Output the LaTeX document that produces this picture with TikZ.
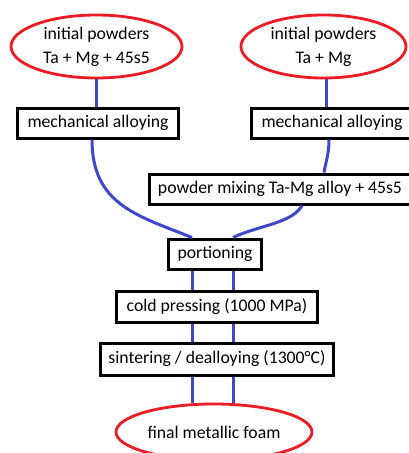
\documentclass[tikz,border=0pt]{standalone}
\usepackage{fontspec}
\setmainfont{Carlito}
\usetikzlibrary{shapes.geometric}

\definecolor{paintred}{RGB}{237,28,36}
\definecolor{paintblue}{RGB}{63,72,204}

\tikzset{
    stepbox/.style={draw=black, line width=3pt, fill=white, inner sep=0pt, minimum height=30pt},
    source/.style={ellipse, draw=paintred, line width=2.8pt, fill=white, inner sep=0pt, align=center},
    link/.style={draw=paintblue, line width=3pt},
}

\begin{document}
\begin{tikzpicture}[x=1pt, y=-1pt, font=\fontsize{17.7}{24}\selectfont]
        \useasboundingbox (0,0) rectangle (408,453);

        % === COLUMNS OF THE DOUBLE LINES ===
        \coordinate (lx) at (192,0);
        \coordinate (rx) at (233,0);

        % === STARTING POWDERS ===
        \node[source, minimum width=171pt, minimum height=63pt] (ip1) at (96.5,46.5) {initial powders\\Ta + Mg + 45s5};
        \node[source, minimum width=165pt, minimum height=63pt] (ip2) at (323.5,46.5) {initial powders\\Ta + Mg};

        % === PROCESS STEPS ===
        \node[stepbox, minimum width=161pt] (ma1) at (98,123) {mechanical alloying};
        \node[stepbox, minimum width=161pt] (ma2) at (332,123) {mechanical alloying};
        \node[stepbox, minimum width=261pt] (mix) at (280,189) {powder mixing Ta-Mg alloy + 45s5};
        \node[stepbox, minimum width=93pt] (port) at (215,254) {portioning};
        \node[stepbox, minimum width=201pt, minimum height=31pt] (cold) at (217,306.5) {cold pressing (1000 MPa)};
        \node[stepbox, minimum width=233pt, minimum height=32pt] (sint) at (217,359) {sintering / dealloying (1300°C)};

        % === PRODUCT ===
        \node[source, minimum width=196pt, minimum height=56pt] (foam) at (214,432) {final metallic foam};

        % === LINKS ===
        \draw[link] (ip1.south) -- (ip1.south |- ma1.north);
        \draw[link] ([xshift=3pt]ip2.south) -- ([xshift=3pt]ip2.south |- ma2.north);
        \draw[link] ([xshift=-6pt]ma1.south) .. controls +(0,65) and +(-55,-22) .. (lx |- port.north);
        \draw[link] ([xshift=-3pt]ma2.south) .. controls +(0,15) and +(2,-12) .. ([xshift=44pt]mix.north);
        \draw[link] ([xshift=22pt]mix.south) .. controls +(-10,18) and +(25,-12) .. (rx |- port.north);

        \foreach \c in {lx,rx} {
            \draw[link] (\c |- port.south) -- (\c |- cold.north);
            \draw[link] (\c |- cold.south) -- (\c |- sint.north);
            \draw[link] (\c |- sint.south) -- (\c |- foam.north);
        }

    \end{tikzpicture}
\end{document}
